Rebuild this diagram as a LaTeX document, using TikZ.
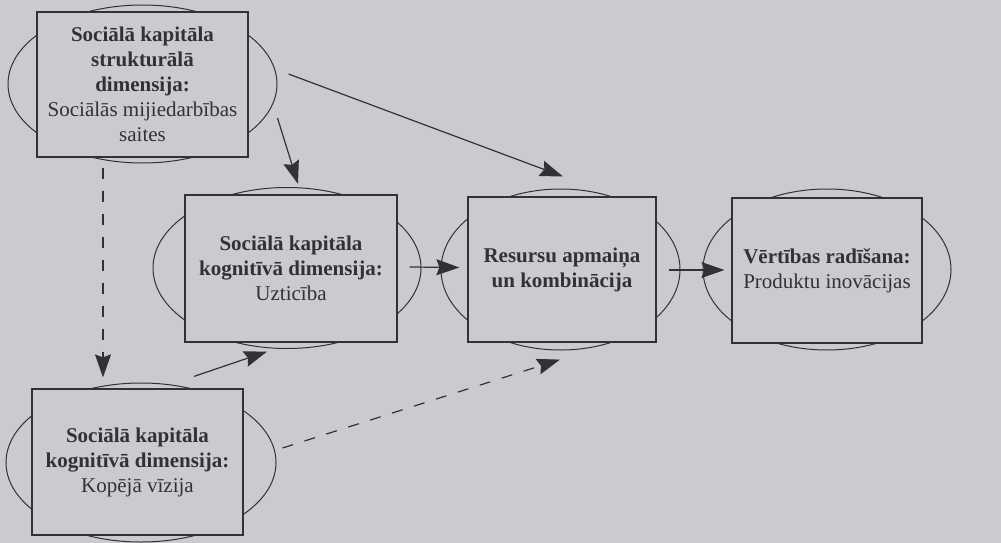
\documentclass[tikz,border=0pt]{standalone}
\usepackage{fontspec}
\setmainfont{Liberation Serif}
\usetikzlibrary{shapes.geometric,arrows.meta}
\definecolor{bg}{RGB}{202,202,207}
\definecolor{ink}{RGB}{50,50,54}
\begin{document}
\begin{tikzpicture}[x=1pt,y=-1pt,
  ell/.style={ellipse,draw=ink,line width=1pt,fill=bg,inner sep=0pt},
  box/.style={rectangle,draw=ink,line width=1.2pt,fill=bg,inner sep=0pt,align=center,text=ink,font=\fontsize{21}{25}\selectfont},
  arr/.style={draw=ink,line width=1.2pt,-{Stealth[length=23pt,width=16pt,inset=3pt]}},
  dsh/.style={arr,dash pattern=on 11pt off 12pt}]
\fill[bg] (0,0) rectangle (1001,543);
\useasboundingbox (0,0) rectangle (1001,543);

% node 1
\node[ell,minimum width=269pt,minimum height=158pt] (e1) at (142.5,84) {};
\node[box,minimum width=211pt,minimum height=145pt] (r1) at (142.5,84.5)
  {\textbf{Sociālā kapitāla}\\\textbf{strukturālā}\\\textbf{dimensija:}\\Sociālās mijiedarbības\\saites};
% node 2
\node[ell,minimum width=268pt,minimum height=161pt] (e2) at (287,268) {};
\node[box,minimum width=212pt,minimum height=147pt] (r2) at (291,268.5)
  {\textbf{Sociālā kapitāla}\\\textbf{kognitīvā dimensija:}\\Uzticība};
% node 3
\node[ell,minimum width=239pt,minimum height=161pt] (e3) at (560.5,269.5) {};
\node[box,minimum width=188pt,minimum height=145pt] (r3) at (562,269.5)
  {\textbf{Resursu apmaiņa}\\\textbf{un kombinācija}};
% node 4
\node[ell,minimum width=248pt,minimum height=161pt] (e4) at (827,269.5) {};
\node[box,minimum width=190pt,minimum height=145pt] (r4) at (827,270.5)
  {\textbf{Vērtības radīšana:}\\Produktu inovācijas};
% node 5
\node[ell,minimum width=270pt,minimum height=159pt] (e5) at (141,462.5) {};
\node[box,minimum width=211pt,minimum height=146pt] (r5) at (137.5,462)
  {\textbf{Sociālā kapitāla}\\\textbf{kognitīvā dimensija:}\\Kopējā vīzija};

% connectors
\draw[arr] ([shift={(11,-10)}]e1.east) -- ([shift={(2.5,-12)}]e3.north);
\draw[arr] ([shift={(0,34)}]e1.east) -- ([shift={(7,-10.5)}]r2.north);
\draw[dsh] ([shift={(-39.5,4)}]e1.south) -- ([shift={(-34.5,-11)}]r5.north);
\draw[arr] ([shift={(12,-1.5)}]r2.east) -- ([shift={(-8,-2)}]r3.west);
\draw[arr] ([shift={(12,0.5)}]r3.east) -- ([shift={(-7,-0.5)}]r4.west);
\draw[arr] ([shift={(56.5,-12)}]r5.north) -- ([shift={(-24,9)}]r2.south);
\draw[dsh] ([shift={(6,-14.5)}]e5.east) -- ([shift={(-2,17)}]r3.south);
\end{tikzpicture}
\end{document}
